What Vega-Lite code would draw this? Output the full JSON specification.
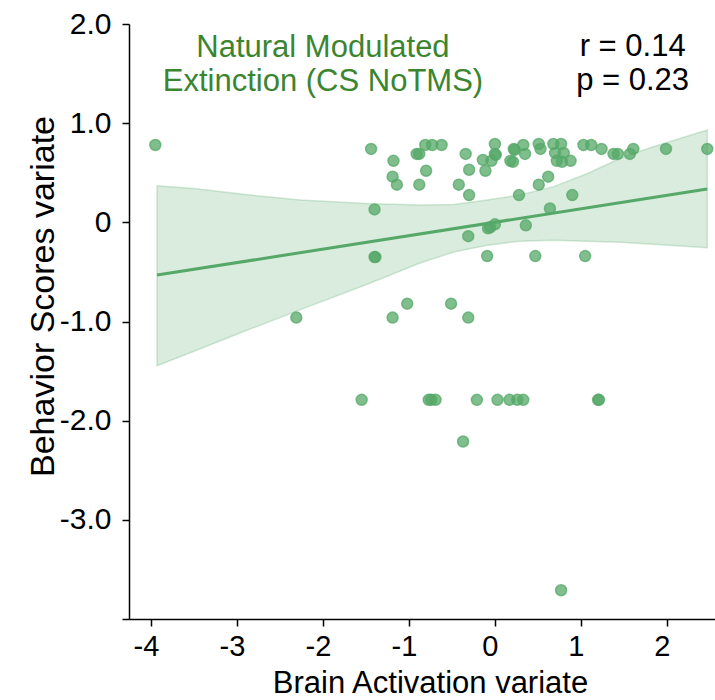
{
  "$schema": "https://vega.github.io/schema/vega-lite/v6.json",
  "width": 586,
  "height": 595,
  "autosize": {"type": "none"},
  "padding": {"left": 129, "top": 24, "right": 0, "bottom": 81},
  "background": "white",
  "config": {
    "view": {"stroke": null},
    "font": "Liberation Sans",
    "axis": {"grid": false, "domainColor": "black", "tickColor": "black", "labelColor": "black", "titleColor": "black", "domainWidth": 1.5, "tickWidth": 1.5, "tickSize": 7, "labelFont": "Liberation Sans", "titleFont": "Liberation Sans", "titleFontWeight": "normal"}
  },
  "datasets": {
    "pts": [
      {"x": -3.95, "y": 0.78}, {"x": -2.31, "y": -0.96}, {"x": -1.44, "y": 0.74}, {"x": -1.40, "y": 0.13},
      {"x": -1.40, "y": -0.35}, {"x": -1.39, "y": -0.35}, {"x": -1.19, "y": -0.96}, {"x": -1.02, "y": -0.82},
      {"x": -1.18, "y": 0.62}, {"x": -1.19, "y": 0.46}, {"x": -1.14, "y": 0.38}, {"x": -0.91, "y": 0.69},
      {"x": -0.88, "y": 0.69}, {"x": -0.88, "y": 0.38}, {"x": -0.81, "y": 0.78}, {"x": -0.73, "y": 0.78},
      {"x": -0.62, "y": 0.78}, {"x": -0.80, "y": 0.52}, {"x": -0.34, "y": 0.69}, {"x": -0.30, "y": 0.53},
      {"x": -0.42, "y": 0.38}, {"x": -0.30, "y": 0.275}, {"x": -0.14, "y": 0.63}, {"x": -0.11, "y": 0.52},
      {"x": -0.04, "y": 0.62}, {"x": 0.0, "y": 0.79}, {"x": 0.0, "y": 0.69}, {"x": 0.01, "y": 0.68},
      {"x": 0.18, "y": 0.62}, {"x": 0.21, "y": 0.61}, {"x": 0.22, "y": 0.74}, {"x": 0.23, "y": 0.73},
      {"x": 0.33, "y": 0.78}, {"x": 0.35, "y": 0.69}, {"x": 0.51, "y": 0.79}, {"x": 0.53, "y": 0.74},
      {"x": 0.68, "y": 0.79}, {"x": 0.77, "y": 0.79}, {"x": 0.70, "y": 0.70}, {"x": 0.80, "y": 0.70},
      {"x": 0.72, "y": 0.62}, {"x": 0.78, "y": 0.61}, {"x": 0.88, "y": 0.62}, {"x": 1.03, "y": 0.78},
      {"x": 1.12, "y": 0.78}, {"x": 1.24, "y": 0.74}, {"x": 1.38, "y": 0.69}, {"x": 1.43, "y": 0.69},
      {"x": 1.57, "y": 0.69}, {"x": 1.61, "y": 0.74}, {"x": 1.99, "y": 0.74}, {"x": 2.47, "y": 0.74},
      {"x": 0.62, "y": 0.46}, {"x": 0.51, "y": 0.38}, {"x": 0.28, "y": 0.275}, {"x": 0.90, "y": 0.275},
      {"x": 0.64, "y": 0.14}, {"x": 0.36, "y": -0.03}, {"x": -0.055, "y": -0.05}, {"x": 0.0, "y": -0.02},
      {"x": -0.08, "y": -0.06}, {"x": -0.31, "y": -0.14}, {"x": -0.09, "y": -0.34}, {"x": 0.47, "y": -0.34},
      {"x": 1.05, "y": -0.34}, {"x": -0.51, "y": -0.82}, {"x": -0.31, "y": -0.96},
      {"x": -1.55, "y": -1.79}, {"x": -0.77, "y": -1.79}, {"x": -0.74, "y": -1.79}, {"x": -0.69, "y": -1.79},
      {"x": -0.21, "y": -1.79}, {"x": 0.03, "y": -1.79}, {"x": 0.17, "y": -1.79}, {"x": 0.26, "y": -1.79},
      {"x": 0.33, "y": -1.79}, {"x": 1.20, "y": -1.79}, {"x": 1.21, "y": -1.79},
      {"x": -0.37, "y": -2.21}, {"x": 0.77, "y": -3.71}
    ],
    "band": [
      {"x": -3.93, "lo": -1.446, "hi": 0.369},
      {"x": -3.5, "lo": -1.30, "hi": 0.34},
      {"x": -2.9, "lo": -1.094, "hi": 0.28},
      {"x": -2.26, "lo": -0.88, "hi": 0.225},
      {"x": -1.5, "lo": -0.63, "hi": 0.19},
      {"x": -0.87, "lo": -0.41, "hi": 0.174},
      {"x": -0.48, "lo": -0.30, "hi": 0.18},
      {"x": -0.09, "lo": -0.23, "hi": 0.225},
      {"x": 0.29, "lo": -0.19, "hi": 0.275},
      {"x": 0.68, "lo": -0.18, "hi": 0.36},
      {"x": 1.07, "lo": -0.19, "hi": 0.49},
      {"x": 1.46, "lo": -0.20, "hi": 0.646},
      {"x": 1.84, "lo": -0.22, "hi": 0.763},
      {"x": 2.47, "lo": -0.256, "hi": 0.93}
    ],
    "fit": [
      {"x": -3.93, "y": -0.532},
      {"x": 2.47, "y": 0.336}
    ],
    "notes": [
      {"label": "title"}
    ]
  },
  "layer": [
    {
      "data": {"name": "pts"},
      "mark": {"type": "point", "filled": true, "shape": "circle", "size": 120, "fill": "#55a868", "fillOpacity": 0.75, "stroke": "#55a868", "strokeOpacity": 0.75, "strokeWidth": 1.5},
      "encoding": {
        "x": {"field": "x", "type": "quantitative", "scale": {"domain": [-4.256, 2.56], "nice": false, "zero": false},
          "axis": {"values": [-4, -3, -2, -1, 0, 1, 2], "title": "Brain Activation variate", "titleFontSize": 31, "labelFontSize": 29, "labelPadding": 6, "labelOffset": -5,
            "labelExpr": "(datum.value < 0 ? '-' : '') + format(abs(datum.value), 'd')",
            "titleBaseline": "alphabetic", "titleY": 73, "titleX": 301, "titleAnchor": "start", "titleAlign": "center"}},
        "y": {"field": "y", "type": "quantitative", "scale": {"domain": [-4, 2], "nice": false, "zero": false},
          "axis": {"values": [-4, -3, -2, -1, 0, 1, 2], "title": "Behavior Scores variate", "titleFontSize": 34, "labelFontSize": 30, "labelPadding": 11,
            "labelExpr": "datum.value == -4 ? '' : (datum.value == 0 ? '0' : (datum.value < 0 ? '-' : '') + format(abs(datum.value), '.1f'))",
            "titleBaseline": "alphabetic", "titleAngle": -90, "titleX": -76, "titleY": 272, "titleAlign": "center"}}
      }
    },
    {
      "data": {"name": "band"},
      "mark": {"type": "area", "fill": "#55a868", "fillOpacity": 0.22, "stroke": "#55a868", "strokeOpacity": 0.25, "strokeWidth": 1.5},
      "encoding": {
        "x": {"field": "x", "type": "quantitative", "scale": {"domain": [-4.256, 2.56], "nice": false, "zero": false}},
        "y": {"field": "lo", "type": "quantitative", "scale": {"domain": [-4, 2], "nice": false, "zero": false}},
        "y2": {"field": "hi"}
      }
    },
    {
      "data": {"name": "fit"},
      "mark": {"type": "line", "color": "#55a868", "strokeWidth": 3},
      "encoding": {
        "x": {"field": "x", "type": "quantitative", "scale": {"domain": [-4.256, 2.56], "nice": false, "zero": false}},
        "y": {"field": "y", "type": "quantitative", "scale": {"domain": [-4, 2], "nice": false, "zero": false}}
      }
    },
    {
      "data": {"name": "notes"},
      "mark": {"type": "text", "text": ["Natural Modulated", "Extinction (CS NoTMS)"], "align": "center", "baseline": "alphabetic", "fontSize": 31, "lineHeight": 34, "color": "#3b8530", "font": "Liberation Sans"},
      "encoding": {
        "x": {"datum": -2.0, "type": "quantitative"},
        "y": {"datum": 1.671, "type": "quantitative"}
      }
    },
    {
      "data": {"name": "notes"},
      "mark": {"type": "text", "text": ["r = 0.14", "p = 0.23"], "align": "center", "baseline": "alphabetic", "fontSize": 31, "lineHeight": 34, "color": "black", "font": "Liberation Sans"},
      "encoding": {
        "x": {"datum": 1.602, "type": "quantitative"},
        "y": {"datum": 1.678, "type": "quantitative"}
      }
    }
  ]
}
